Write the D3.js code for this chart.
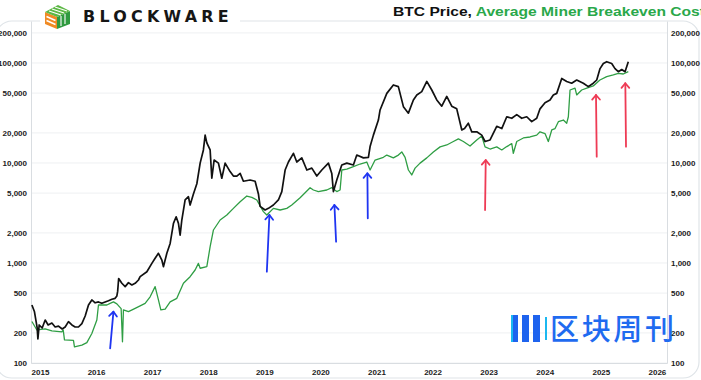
<!DOCTYPE html>
<html>
<head>
<meta charset="utf-8">
<script src="https://cdn.jsdelivr.net/npm/d3@7"></script>
<style>
  body { margin: 0; background: #fff; }
  text { font-family: "Liberation Sans", Arial, sans-serif; }
</style>
</head>
<body>
<svg id="chart" width="701" height="380"></svg>
<script>
// ---- data ----
const yearTicks = [2015, 2016, 2017, 2018, 2019, 2020, 2021, 2022, 2023, 2024, 2025, 2026];
const priceTicks = [100, 200, 500, 1000, 2000, 5000, 10000, 20000, 50000, 100000, 200000];

// BTC price, decimal year / USD
const btcTime = [2014.856, 2014.902, 2014.950, 2014.963, 2014.986, 2015.039, 2015.093, 2015.146, 2015.212, 2015.271,
  2015.330, 2015.396, 2015.449, 2015.508, 2015.569, 2015.627, 2015.686, 2015.747, 2015.806, 2015.865,
  2015.925, 2015.984, 2016.043, 2016.103, 2016.162, 2016.221, 2016.282, 2016.340, 2016.371, 2016.385,
  2016.403, 2016.460, 2016.519, 2016.578, 2016.638, 2016.697, 2016.756, 2016.786, 2016.906, 2016.995,
  2017.053, 2017.112, 2017.173, 2017.201, 2017.262, 2017.321, 2017.380, 2017.428, 2017.469, 2017.499,
  2017.529, 2017.588, 2017.647, 2017.677, 2017.736, 2017.797, 2017.856, 2017.914, 2017.945, 2017.975,
  2018.034, 2018.064, 2018.105, 2018.182, 2018.242, 2018.301, 2018.390, 2018.449, 2018.510, 2018.569,
  2018.627, 2018.747, 2018.836, 2018.895, 2018.925, 2019.014, 2019.073, 2019.162, 2019.251, 2019.312,
  2019.371, 2019.430, 2019.519, 2019.579, 2019.668, 2019.758, 2019.847, 2019.936, 2020.025, 2020.143,
  2020.203, 2020.232, 2020.292, 2020.381, 2020.471, 2020.588, 2020.649, 2020.767, 2020.856, 2020.886,
  2020.945, 2021.034, 2021.064, 2021.184, 2021.301, 2021.390, 2021.480, 2021.569, 2021.658, 2021.719,
  2021.807, 2021.897, 2021.986, 2022.075, 2022.164, 2022.253, 2022.342, 2022.431, 2022.521, 2022.570,
  2022.638, 2022.699, 2022.788, 2022.877, 2022.936, 2023.025, 2023.144, 2023.234, 2023.323, 2023.412,
  2023.501, 2023.590, 2023.679, 2023.768, 2023.857, 2023.916, 2024.005, 2024.094, 2024.153, 2024.214,
  2024.303, 2024.392, 2024.480, 2024.570, 2024.688, 2024.777, 2024.866, 2024.927, 2024.986, 2025.045,
  2025.105, 2025.194, 2025.253, 2025.312, 2025.373, 2025.432, 2025.490];
const btcPrice = [380, 325, 224, 174, 240, 224, 269, 240, 251, 229,
  234, 219, 229, 259, 240, 229, 229, 248, 295, 380,
  427, 400, 408, 395, 408, 420, 434, 443, 468, 520,
  700, 627, 580, 636, 603, 627, 676, 730, 818, 992,
  1115, 1250, 1070, 919, 1250, 1570, 2490, 2900, 2490, 1900,
  2690, 4270, 4600, 3800, 4900, 6200, 9970, 13500, 19000, 15900,
  13500, 7040, 10700, 9970, 7040, 9970, 8200, 7400, 7400, 7870,
  6570, 6760, 6570, 4900, 3680, 3390, 3520, 3800, 4270, 5180,
  8510, 10230, 12500, 10230, 11250, 8510, 8880, 7400, 8510, 9970,
  7870, 5180, 6760, 9550, 9970, 9550, 12000, 11250, 11400, 14600,
  19000, 26900, 33900, 49700, 60300, 58000, 36600, 31500, 42700, 47900,
  51700, 65400, 53700, 42700, 37000, 46300, 37000, 34800, 21400, 22100,
  25000, 20500, 20500, 19000, 16400, 17000, 23300, 22100, 29000, 28000,
  30500, 28000, 29000, 25900, 28000, 34800, 40000, 42700, 47900, 49700,
  70000, 65400, 62800, 67600, 62800, 58000, 62800, 67600, 87900, 98800,
  103000, 98800, 87900, 81900, 86000, 81900, 103000];

// average miner breakeven cost, decimal year / USD
const costTime = [2014.856, 2014.945, 2015.093, 2015.212, 2015.390, 2015.414, 2015.437, 2015.597, 2015.615, 2015.747,
  2015.836, 2015.925, 2016.014, 2016.043, 2016.193, 2016.251, 2016.310, 2016.371, 2016.447, 2016.471,
  2016.488, 2016.578, 2016.697, 2016.875, 2016.964, 2017.053, 2017.112, 2017.155, 2017.232, 2017.321,
  2017.440, 2017.558, 2017.677, 2017.766, 2017.825, 2017.856, 2017.975, 2018.034, 2018.093, 2018.212,
  2018.332, 2018.449, 2018.569, 2018.688, 2018.777, 2018.866, 2018.984, 2019.045, 2019.162, 2019.282,
  2019.401, 2019.490, 2019.638, 2019.816, 2019.875, 2019.964, 2020.114, 2020.203, 2020.292, 2020.351,
  2020.382, 2020.471, 2020.588, 2020.708, 2020.827, 2020.886, 2020.975, 2021.123, 2021.184, 2021.301,
  2021.390, 2021.451, 2021.510, 2021.569, 2021.629, 2021.688, 2021.777, 2021.897, 2022.014, 2022.134,
  2022.253, 2022.371, 2022.460, 2022.549, 2022.668, 2022.788, 2022.877, 2022.936, 2023.025, 2023.144,
  2023.234, 2023.323, 2023.412, 2023.440, 2023.501, 2023.619, 2023.738, 2023.857, 2023.916, 2024.005,
  2024.064, 2024.125, 2024.184, 2024.243, 2024.332, 2024.392, 2024.421, 2024.451, 2024.540, 2024.570,
  2024.659, 2024.749, 2024.866, 2024.984, 2025.105, 2025.223, 2025.312, 2025.401, 2025.490];
const costValue = [260, 214, 219, 210, 205, 214, 170, 168, 145, 151,
  160, 197, 269, 380, 380, 395, 408, 390, 350, 163,
  340, 326, 352, 395, 459, 580, 427, 340, 345, 408,
  443, 627, 730, 851, 992, 886, 919, 1455, 2138, 2692,
  3020, 3519, 4094, 4677, 4529, 4266, 3265, 3020, 3519, 3388,
  3519, 3800, 4500, 5660, 5370, 5180, 5370, 5660, 5180, 5370,
  8510, 8700, 9200, 9770, 10230, 8510, 10700, 11400, 12000, 11250,
  12000, 12900, 11400, 8510, 7590, 8880, 9970, 11250, 12900, 14500,
  15150, 16400, 17400, 16400, 14800, 17000, 18600, 14500, 13800, 14500,
  13500, 14600, 15600, 12500, 16400, 17800, 18200, 19000, 20500, 19700,
  16400, 21400, 22100, 25900, 26900, 25000, 29000, 53700, 56000, 47900,
  53700, 56000, 59000, 67600, 73000, 76000, 78600, 77600, 81900];

// annotation arrows (tail -> head)
const arrowGroup = ["past", "past", "past", "past", "recent", "recent", "recent"];
const arrowTailTime = [2016.251, 2019.045, 2020.280, 2020.845, 2022.936, 2024.927, 2025.449];
const arrowTailValue = [140, 818, 1633, 2800, 3390, 11570, 14550];
const arrowHeadTime = [2016.310, 2019.091, 2020.250, 2020.838, 2022.948, 2024.914, 2025.437];
const arrowHeadValue = [326, 3020, 3800, 7890, 10700, 47900, 62700];

// ---- drawing ----
const svg = d3.select('#chart');
const W = 701, H = 380;
const plotLeft = 31, plotRight = 667, plotTop = 21, plotBottom = 363;

const x = d3.scaleLinear().domain([2014.84, 2026.18]).range([plotLeft, plotRight]);
const y = d3.scaleLog().domain([100, 263000]).range([plotBottom, plotTop]);

// panel outline
svg.append('rect')
	.attr('x', -4).attr('y', plotTop).attr('width', W + 2).attr('height', 378 - plotTop)
	.attr('rx', 16)
	.attr('fill', 'none')
	.attr('stroke', '#dfe4e8')
	.attr('stroke-width', 1.2);

// gridlines
svg.append('g')
	.selectAll('line')
	.data(priceTicks)
	.join('line')
	.attr('x1', plotLeft).attr('x2', plotRight)
	.attr('y1', d => y(d)).attr('y2', d => y(d))
	.attr('stroke', '#eef0f2')
	.attr('stroke-width', 1);

function styleAxis(g) {
	g.selectAll('.domain').attr('stroke', '#d9dde1');
	g.selectAll('text')
		.attr('fill', '#1c1c1c')
		.style('font-size', '8px')
		.style('font-weight', 'bold');
}

const fmt = d3.format(',');

svg.append('g')
	.attr('transform', `translate(${plotLeft},0)`)
	.call(d3.axisLeft(y).tickValues(priceTicks).tickFormat(fmt).tickSize(0).tickPadding(4))
	.call(styleAxis);

svg.append('g')
	.attr('transform', `translate(${plotRight},0)`)
	.call(d3.axisRight(y).tickValues(priceTicks).tickFormat(fmt).tickSize(0).tickPadding(4))
	.call(styleAxis);

svg.append('g')
	.attr('transform', `translate(0,${plotBottom})`)
	.call(d3.axisBottom(x).tickValues(yearTicks).tickFormat(d3.format('d')).tickSize(0).tickPadding(6))
	.call(styleAxis);

// series
const line = d3.line()
	.x(d => x(d[0]))
	.y(d => y(d[1]));

svg.append('path')
	.datum(d3.zip(costTime, costValue))
	.attr('fill', 'none')
	.attr('stroke', '#2f9e44')
	.attr('stroke-width', 1.3)
	.attr('stroke-linejoin', 'round')
	.attr('d', line);

svg.append('path')
	.datum(d3.zip(btcTime, btcPrice))
	.attr('fill', 'none')
	.attr('stroke', '#111')
	.attr('stroke-width', 1.7)
	.attr('stroke-linejoin', 'round')
	.attr('d', line);

// arrows
const arrowColors = { past: '#1f35f2', recent: '#ee3b55' };
const arrowData = arrowGroup.map((g, i) => ({
	group: g,
	x1: x(arrowTailTime[i]), y1: y(arrowTailValue[i]),
	x2: x(arrowHeadTime[i]), y2: y(arrowHeadValue[i])
}));

const arrowG = svg.append('g').selectAll('g').data(arrowData).join('g')
	.attr('stroke', d => arrowColors[d.group])
	.attr('stroke-width', 1.8)
	.attr('stroke-linecap', 'round')
	.attr('fill', 'none');

arrowG.append('line')
	.attr('x1', d => d.x1).attr('y1', d => d.y1)
	.attr('x2', d => d.x2).attr('y2', d => d.y2);

arrowG.append('path')
	.attr('stroke-linejoin', 'round')
	.attr('d', d => {
		const a = Math.atan2(d.y2 - d.y1, d.x2 - d.x1);
		const len = 6, spread = 0.7;
		const p1 = [d.x2 - len * Math.cos(a - spread), d.y2 - len * Math.sin(a - spread)];
		const p2 = [d.x2 - len * Math.cos(a + spread), d.y2 - len * Math.sin(a + spread)];
		return `M${p1}L${d.x2},${d.y2}L${p2}`;
	});

// header: logo
const logo = svg.append('g');
logo.append('rect').attr('x', 40).attr('y', 0).attr('width', 200).attr('height', 32).attr('fill', '#fff');
// orange face
logo.append('path')
	.attr('d', 'M45,12 L57,17 L57,29 L45,24 Z')
	.attr('fill', '#f08a24');
logo.append('path')
	.attr('d', 'M46.5,16.5 L55.5,20.5 M46.5,20.5 L55.5,24.5')
	.attr('stroke', '#fff').attr('stroke-width', 1.4);
// green faces
logo.append('path')
	.attr('d', 'M57,17 L70,11 L70,24 L57,29 Z')
	.attr('fill', '#2f9a3f');
logo.append('path')
	.attr('d', 'M45,12 L58,5 L70,11 L57,17 Z')
	.attr('fill', '#5cb845');
logo.append('path')
	.attr('d', 'M61,16 L61,26 M65,14 L65,24 M49,11 L61,15 M52,9 L64,13 M55,7 L67,11')
	.attr('stroke', '#fff').attr('stroke-width', 1.1);

logo.append('text')
	.attr('x', 83).attr('y', 22)
	.attr('textLength', 150)
	.attr('lengthAdjust', 'spacingAndGlyphs')
	.attr('fill', '#161616')
	.style('font-family', '"DejaVu Sans", sans-serif')
	.style('font-size', '15px')
	.style('font-weight', 'bold')
	.style('letter-spacing', '4px')
	.text('BLOCKWARE');

// header: title
const title = svg.append('text')
	.attr('x', 393).attr('y', 16)
	.attr('textLength', 312)
	.attr('lengthAdjust', 'spacingAndGlyphs')
	.style('font-size', '13.5px')
	.style('font-weight', 'bold');
title.append('tspan').attr('fill', '#111').text('BTC Price, ');
title.append('tspan').attr('fill', '#2aa84a').text('Average Miner Breakeven Cost');

// watermark
const wm = svg.append('g');
wm.append('path').attr('d', 'M511,315 L517,315 L517,342 L511,342 Z').attr('fill', '#1bb8f0');
wm.append('path').attr('d', 'M513,315 L518,315 L518,342 L513,342 Z').attr('fill', '#1e63ee');
wm.append('path').attr('d', 'M522,315 L529,315 L529,342 L522,342 Z').attr('fill', '#1e63ee');
wm.append('path').attr('d', 'M533,315 L540,315 L540,342 L533,342 Z').attr('fill', '#1e63ee');
wm.append('path').attr('d', 'M545,317 L547,317 L547,340 L545,340 Z').attr('fill', '#1bb8f0');
wm.append('text')
	.attr('x', 550).attr('y', 340)
	.attr('textLength', 124)
	.attr('lengthAdjust', 'spacing')
	.attr('fill', '#1f6bf0')
	.style('font-family', '"Noto Sans CJK SC", sans-serif')
	.style('font-size', '29px')
	.style('font-weight', '500')
	.text('区块周刊');
</script>
</body>
</html>
